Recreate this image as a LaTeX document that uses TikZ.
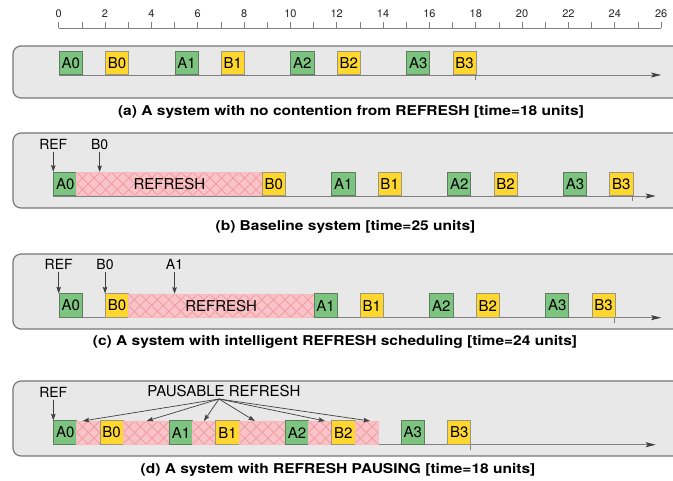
\documentclass[tikz,border=0pt]{standalone}
\usepackage{fontspec}
\setmainfont{TeX Gyre Heros}
\newfontfamily\capfont[FakeStretch=1.15]{TeX Gyre Heros}
\usetikzlibrary{arrows.meta}

\definecolor{panelfill}{HTML}{E8E8E8}
\definecolor{panelline}{HTML}{777777}
\definecolor{agreen}{HTML}{7CC47F}
\definecolor{agreenline}{HTML}{5E7D60}
\definecolor{byellow}{HTML}{FFD72E}
\definecolor{byellowline}{HTML}{9A9680}
\definecolor{refill}{HTML}{F9C3C7}
\definecolor{rehatch}{HTML}{F0979E}
\definecolor{tlinecol}{HTML}{808080}
\definecolor{ptrcol}{HTML}{404040}

% one time unit in pt
\def\u{23.17}

\tikzset{
  panel/.style={draw=panelline, fill=panelfill, line width=1.2pt, rounded corners=8pt},
  slot/.style={line width=0.8pt, minimum width=23.17pt, minimum height=23.5pt,
    inner sep=0pt, anchor=south west, font=\fontsize{15}{15}\selectfont},
  gbox/.style={slot, fill=agreen, draw=agreenline},
  ybox/.style={slot, fill=byellow, draw=byellowline},
  rbox/.style={slot, fill=refill, draw=refill!80!rehatch, line width=0.5pt,
    path picture={
      \foreach \k in {-3,...,18}{
        \draw[rehatch, line width=0.7pt]
          ([xshift=\k*11.585pt]path picture bounding box.north west) -- ++(23.5pt,-23.5pt);
        \draw[rehatch, line width=0.7pt]
          ([xshift=\k*11.585pt]path picture bounding box.north west) -- ++(-23.5pt,-23.5pt);
      }}},
  tline/.style={draw=tlinecol, line width=0.9pt,
    -{Stealth[length=10pt,width=5pt,inset=2pt,fill=ptrcol,color=ptrcol]}},
  endtick/.style={draw=tlinecol, line width=0.9pt},
  ptr/.style={draw=ptrcol, line width=0.7pt, -{Stealth[length=6.5pt,width=4.5pt,inset=1pt]}},
  tag/.style={font=\fontsize{14}{14}\selectfont, inner sep=0pt, anchor=base},
  captext/.style={font=\capfont\bfseries\fontsize{13.5}{13.5}\selectfont, inner sep=0pt, anchor=base},
  axisc/.style={draw=tlinecol, line width=0.7pt},
  axl/.style={font=\fontsize{11}{11}\selectfont, inner sep=0pt, anchor=base, text=black!85},
}

\begin{document}
\begin{tikzpicture}[x=1pt, y=-1pt]
\useasboundingbox (0,0) rectangle (673,481);
\clip (0,0) rectangle (673,481);
\fill[white] (0,0) rectangle (673,481);

% ---------- time axis ----------
\draw[axisc] (58.7,28) -- ({58.7+26*\u},28);
\foreach \i in {0,...,26}
  \draw[axisc] ({58.7+\i*\u},22) -- ({58.7+\i*\u},28);
\foreach \i in {0,2,...,26}
  \node[axl] (ax\i) at ({58.7+\i*\u},17.5) {\i};

% ---------- (a) no contention ----------
\draw[panel] (13,46) rectangle (700,98);
\begin{scope}[shift={(58.7,75)}]
  \coordinate (a-start) at (0,0);
  \coordinate (a-end) at ({26*\u},0);
  \draw[tline] (a-start) -- (a-end);
  \draw[endtick] ({18*\u},-1) -- ({18*\u},5);
  \node[gbox] (a-A0) at ({0*\u},0) {A0};
  \node[ybox] (a-B0) at ({2*\u},0) {B0};
  \node[gbox] (a-A1) at ({5*\u},0) {A1};
  \node[ybox] (a-B1) at ({7*\u},0) {B1};
  \node[gbox] (a-A2) at ({10*\u},0) {A2};
  \node[ybox] (a-B2) at ({12*\u},0) {B2};
  \node[gbox] (a-A3) at ({15*\u},0) {A3};
  \node[ybox] (a-B3) at ({17*\u},0) {B3};
\end{scope}
\node[captext] (a-cap) at (351,115.5) {(a) A system with no contention from REFRESH [time=18 units]};

% ---------- (b) baseline ----------
\draw[panel] (13,133) rectangle (700,208);
\begin{scope}[shift={(53.3,196)}]
  \coordinate (b-start) at (0,0);
  \coordinate (b-end) at ({26*\u},0);
  \draw[tline] (b-start) -- (b-end);
  \draw[endtick] ({25*\u},-1) -- ({25*\u},5);
  \node[gbox] (b-A0) at ({0*\u},0) {A0};
  \node[rbox, minimum width={8*\u}] (b-R) at ({1*\u},0) {REFRESH};
  \node[ybox] (b-B0) at ({9*\u},0) {B0};
  \node[gbox] (b-A1) at ({12*\u},0) {A1};
  \node[ybox] (b-B1) at ({14*\u},0) {B1};
  \node[gbox] (b-A2) at ({17*\u},0) {A2};
  \node[ybox] (b-B2) at ({19*\u},0) {B2};
  \node[gbox] (b-A3) at ({22*\u},0) {A3};
  \node[ybox] (b-B3) at ({24*\u},0) {B3};
  \node[tag] (b-lref) at ({0*\u},-46) {REF};
  \node[tag] (b-lb0) at ({2*\u},-46) {B0};
  \draw[ptr, shorten <=2pt] (b-lref.south) -- (b-lref.south |- b-A0.north);
  \draw[ptr, shorten <=2pt] (b-lb0.south) -- (b-lb0.south |- b-R.north);
\end{scope}
\node[captext] (b-cap) at (345.5,230.5) {(b) Baseline system [time=25 units]};

% ---------- (c) intelligent scheduling ----------
\draw[panel] (13,254) rectangle (700,329);
\begin{scope}[shift={(58.7,317.7)}]
  \coordinate (c-start) at (0,0);
  \coordinate (c-end) at ({26*\u},0);
  \draw[tline] (c-start) -- (c-end);
  \draw[endtick] ({24*\u},-1) -- ({24*\u},5);
  \node[gbox] (c-A0) at ({0*\u},0) {A0};
  \node[ybox] (c-B0) at ({2*\u},0) {B0};
  \node[rbox, minimum width={8*\u}] (c-R) at ({3*\u},0) {REFRESH};
  \node[gbox] (c-A1) at ({11*\u},0) {A1};
  \node[ybox] (c-B1) at ({13*\u},0) {B1};
  \node[gbox] (c-A2) at ({16*\u},0) {A2};
  \node[ybox] (c-B2) at ({18*\u},0) {B2};
  \node[gbox] (c-A3) at ({21*\u},0) {A3};
  \node[ybox] (c-B3) at ({23*\u},0) {B3};
  \node[tag] (c-lref) at ({0*\u},-47.7) {REF};
  \node[tag] (c-lb0) at ({2*\u},-47.7) {B0};
  \node[tag] (c-la1) at ({5*\u},-47.7) {A1};
  \draw[ptr, shorten <=2pt] (c-lref.south) -- (c-lref.south |- c-A0.north);
  \draw[ptr, shorten <=2pt] (c-lb0.south) -- (c-lb0.south |- c-B0.north);
  \draw[ptr, shorten <=2pt] (c-la1.south) -- (c-la1.south |- c-R.north);
\end{scope}
\node[captext] (c-cap) at (335,345.5) {(c) A system with intelligent REFRESH scheduling [time=24 units]};

% ---------- (d) refresh pausing ----------
\draw[panel] (13,381) rectangle (700,456);
\begin{scope}[shift={(53.3,444.7)}]
  \coordinate (d-start) at (0,0);
  \coordinate (d-end) at ({26*\u},0);
  \draw[tline] (d-start) -- (d-end);
  \draw[endtick] ({18*\u},-1) -- ({18*\u},5);
  \node[gbox] (d-A0) at ({0*\u},0) {A0};
  \node[rbox] (d-R1) at ({1*\u},0) {};
  \node[ybox] (d-B0) at ({2*\u},0) {B0};
  \node[rbox, minimum width={2*\u}] (d-R2) at ({3*\u},0) {};
  \node[gbox] (d-A1) at ({5*\u},0) {A1};
  \node[rbox] (d-R3) at ({6*\u},0) {};
  \node[ybox] (d-B1) at ({7*\u},0) {B1};
  \node[rbox, minimum width={2*\u}] (d-R4) at ({8*\u},0) {};
  \node[gbox] (d-A2) at ({10*\u},0) {A2};
  \node[rbox] (d-R5) at ({11*\u},0) {};
  \node[ybox] (d-B2) at ({12*\u},0) {B2};
  \node[rbox] (d-R6) at ({13*\u},0) {};
  \node[gbox] (d-A3) at ({15*\u},0) {A3};
  \node[ybox] (d-B3) at ({17*\u},0) {B3};
  \node[tag] (d-lref) at ({0*\u},-47) {REF};
  \draw[ptr, shorten <=2pt] (d-lref.south) -- (d-lref.south |- d-A0.north);
  \node[tag, font=\fontsize{15}{15}\selectfont] (d-lpause) at (170.7,-48.5) {PAUSABLE REFRESH};
  \coordinate (d-fan) at (165.7,-45.7);
  \coordinate (d-p1) at ({1.27*\u},-23.7);
  \coordinate (d-p2) at ({4.03*\u},-23.7);
  \coordinate (d-p3) at ({6.5*\u},-23.7);
  \coordinate (d-p4) at ({8.7*\u},-23.7);
  \coordinate (d-p5) at ({11.73*\u},-23.7);
  \coordinate (d-p6) at ({13.67*\u},-23.7);
  \foreach \p in {d-p1,d-p2,d-p3,d-p4,d-p5,d-p6}
    \draw[ptr] (d-fan) -- (\p);
\end{scope}
\node[captext] (d-cap) at (338,473) {(d) A system with REFRESH PAUSING [time=18 units]};
\end{tikzpicture}
\end{document}
